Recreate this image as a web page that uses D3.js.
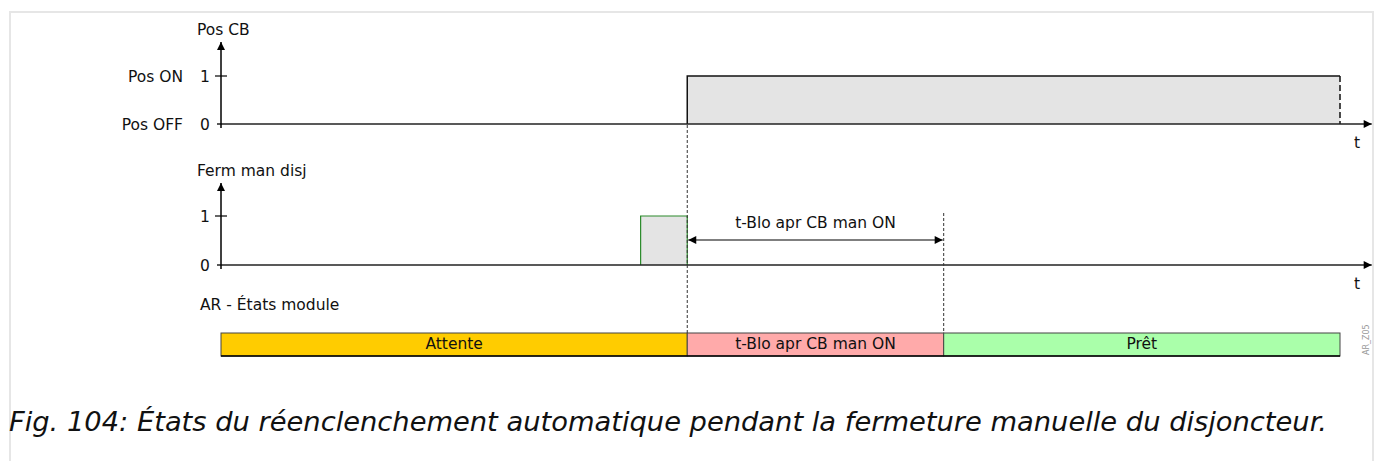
<!DOCTYPE html>
<html>
<head>
<meta charset="utf-8">
<script src="https://cdn.jsdelivr.net/npm/d3@7"></script>
<style>
  body { margin: 0; background: #fff; }
  svg text { font-family: "DejaVu Sans", sans-serif; fill: #111; }
</style>
</head>
<body>
<div id="chart"></div>
<script>

// time in arbitrary units, 0..12 across the diagram
var tEnd       = 12;
var tAxisEnd   = 12.34;
var posCBSteps = [[0, 0], [5, 0], [5, 1], [12, 1]];
var fermPulse  = [[4.5, 0], [4.5, 1], [5, 1], [5, 0]];
var blockStart = 5, blockEnd = 7.75;

var panels = [
  {key: "pos",  title: "Pos CB",        ticks: [0, 1], tickNames: ["Pos OFF", "Pos ON"]},
  {key: "ferm", title: "Ferm man disj", ticks: [0, 1], tickNames: ["", ""]}
];

var states      = ["Attente", "t-Blo apr CB man ON", "Prêt"];
var stateBounds = [[0, 5], [5, 7.75], [7.75, 12]];
var stateColors = ["#ffcc00", "#ffaaaa", "#aaffaa"];

var blockLabel = "t-Blo apr CB man ON";
var caption    = "Fig. 104: États du réenclenchement automatique pendant la fermeture manuelle du disjoncteur.";

var W = 1382, H = 461;
var fs = 15.5;

var svg = d3.select("#chart").append("svg")
  .attr("width", W).attr("height", H);

// frame around figure (open at the bottom)
svg.append("path")
  .attr("d", "M10,470 L10,12 L1373,12 L1373,470")
  .attr("fill", "none").attr("stroke", "#e6e6e6").attr("stroke-width", 2);

var defs = svg.append("defs");
defs.append("marker").attr("id", "arr")
  .attr("viewBox", "0 0 10 10").attr("refX", 10).attr("refY", 5)
  .attr("markerWidth", 12).attr("markerHeight", 8).attr("markerUnits", "userSpaceOnUse")
  .attr("orient", "auto-start-reverse")
  .append("path").attr("d", "M0,0 L10,5 L0,10 z").attr("fill", "#000");

var x = d3.scaleLinear().domain([0, tEnd]).range([221, 1340]);

var panelY = {
  pos:  d3.scaleLinear().domain([0, 1]).range([124, 76]),
  ferm: d3.scaleLinear().domain([0, 1]).range([265, 216])
};

// signals
var yp = panelY.pos;
var lineStep = d3.line().x(function(d) { return x(d[0]); }).y(function(d) { return yp(d[1]); });

svg.append("rect")
  .attr("x", x(5)).attr("y", yp(1))
  .attr("width", x(tEnd) - x(5)).attr("height", yp(0) - yp(1))
  .attr("fill", "#e4e4e4");
svg.append("path")
  .attr("d", lineStep(posCBSteps.slice(1)))
  .attr("fill", "none").attr("stroke", "#111").attr("stroke-width", 1.5);
svg.append("line")
  .attr("x1", x(tEnd)).attr("x2", x(tEnd)).attr("y1", yp(1)).attr("y2", yp(0))
  .attr("stroke", "#111").attr("stroke-width", 1.5).attr("stroke-dasharray", "6,3");

var yf = panelY.ferm;
svg.append("path")
  .attr("d", d3.line().x(function(d) { return x(d[0]); }).y(function(d) { return yf(d[1]); })(fermPulse))
  .attr("fill", "#e4e4e4").attr("stroke", "#2a8a2a").attr("stroke-width", 1.2);

// axes
panels.forEach(function(p) {
  var y = panelY[p.key];
  var g = svg.append("g");

  g.append("line")
    .attr("x1", x(0) - 4).attr("x2", x(tAxisEnd))
    .attr("y1", y(0)).attr("y2", y(0))
    .attr("stroke", "#222").attr("stroke-width", 1.5)
    .attr("marker-end", "url(#arr)");

  g.append("line")
    .attr("x1", x(0)).attr("x2", x(0))
    .attr("y1", y(0) + 4).attr("y2", y(0) - 82)
    .attr("stroke", "#000").attr("stroke-width", 1.5)
    .attr("marker-end", "url(#arr)");

  g.append("text").attr("x", 197).attr("y", y(0) - 89)
    .attr("font-size", fs).text(p.title);

  g.append("text").attr("x", 1357).attr("y", y(0) + 24)
    .attr("font-size", fs).attr("text-anchor", "middle").text("t");

  p.ticks.forEach(function(t, i) {
    if (t > 0) {
      g.append("line").attr("x1", x(0) - 6).attr("x2", x(0) + 6)
        .attr("y1", y(t)).attr("y2", y(t))
        .attr("stroke", "#000").attr("stroke-width", 1.2);
    }
    g.append("text").attr("x", 205).attr("y", y(t) + 6)
      .attr("font-size", fs).attr("text-anchor", "middle").text(t);
    if (p.tickNames[i]) {
      g.append("text").attr("x", 183).attr("y", y(t) + 6)
        .attr("font-size", fs).attr("text-anchor", "end").text(p.tickNames[i]);
    }
  });
});

// dashed time markers
svg.append("line")
  .attr("x1", x(blockStart)).attr("x2", x(blockStart)).attr("y1", 125).attr("y2", 333)
  .attr("stroke", "#333").attr("stroke-width", 1).attr("stroke-dasharray", "3,2");
svg.append("line")
  .attr("x1", x(blockEnd)).attr("x2", x(blockEnd)).attr("y1", 213).attr("y2", 333)
  .attr("stroke", "#333").attr("stroke-width", 1).attr("stroke-dasharray", "3,2");

// duration arrow
svg.append("line")
  .attr("x1", x(blockStart) + 1).attr("x2", x(blockEnd) - 1)
  .attr("y1", 240).attr("y2", 240)
  .attr("stroke", "#000").attr("stroke-width", 1.2)
  .attr("marker-start", "url(#arr)").attr("marker-end", "url(#arr)");
svg.append("text")
  .attr("x", (x(blockStart) + x(blockEnd)) / 2).attr("y", 228)
  .attr("font-size", fs).attr("text-anchor", "middle").text(blockLabel);

// module states
svg.append("text").attr("x", 200).attr("y", 310)
  .attr("font-size", fs).text("AR - États module");

var sg = svg.selectAll(".state").data(states).enter().append("g").attr("class", "state");
sg.append("rect")
  .attr("x", function(d, i) { return x(stateBounds[i][0]); })
  .attr("y", 333)
  .attr("width", function(d, i) { return x(stateBounds[i][1]) - x(stateBounds[i][0]); })
  .attr("height", 23)
  .attr("fill", function(d, i) { return stateColors[i]; })
  .attr("stroke", "#444").attr("stroke-width", 1);
sg.append("text")
  .attr("x", function(d, i) { return (x(stateBounds[i][0]) + x(stateBounds[i][1])) / 2; })
  .attr("y", 349)
  .attr("font-size", fs).attr("text-anchor", "middle")
  .text(function(d) { return d; });
svg.append("line")
  .attr("x1", x(0)).attr("x2", x(tEnd)).attr("y1", 356).attr("y2", 356)
  .attr("stroke", "#000").attr("stroke-width", 1.5);

svg.append("text")
  .attr("transform", "translate(1369,355) rotate(-90)")
  .attr("font-size", 8).style("fill", "#999").text("AR_Z05");

// caption
svg.append("text").attr("x", 9).attr("y", 431)
  .attr("font-size", 27.3).attr("font-style", "italic")
  .text(caption);

</script>
</body>
</html>
